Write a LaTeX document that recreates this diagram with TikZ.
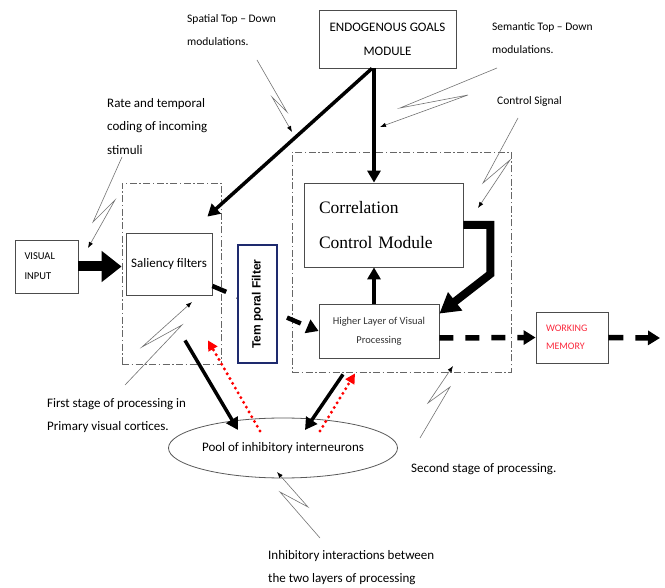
\documentclass[tikz,border=0pt]{standalone}
\usepackage{fontspec}
\setmainfont{Carlito}
\newfontfamily\timesfont{Liberation Serif}
\newfontfamily\arialfont{Liberation Sans}
\usetikzlibrary{calc,arrows.meta,shapes.geometric}
\definecolor{navyblue}{RGB}{30,42,110}
\definecolor{memred}{RGB}{250,40,60}
\tikzstyle{module} = [rectangle, draw=black!70, line width=0.8pt, inner sep=0pt, text centered, font=\fontsize{13}{24}\selectfont]
\tikzstyle{stage} = [rectangle, draw=black!60, line width=0.8pt, dash pattern=on 7pt off 2.5pt on 1.5pt off 2.5pt, inner sep=0pt]
\tikzstyle{filterbox} = [rectangle, draw=navyblue, line width=2pt, fill=white, inner sep=0pt, font=\arialfont\bfseries\fontsize{12}{14}\selectfont]
\tikzstyle{note} = [inner sep=0pt, anchor=north west, align=left, font=\fontsize{13}{23.5}\selectfont]
\tikzstyle{smallnote} = [note, font=\fontsize{11.5}{23.5}\selectfont]
\tikzstyle{callout} = [draw=black!55, line width=0.6pt, -{Latex[length=6pt,width=4.5pt,color=black]}]
\tikzstyle{arrow} = [line width=3.5pt, -{Triangle[length=12pt,width=13pt]}]
\tikzstyle{dasharrow} = [line width=4.5pt, dash pattern=on 15pt off 12pt, -{Triangle[length=12pt,width=14pt]}]
\tikzstyle{inhibit} = [red, line width=3.3pt, dash pattern=on 0pt off 5.5pt, line cap=round, -{Triangle[length=10pt,width=10pt]}]

\begin{document}
\begin{tikzpicture}[x=1pt,y=-1pt]
\useasboundingbox (0,0) rectangle (665,588);
% boxes
\node (goals) [module, minimum width=137pt, minimum height=58pt, align=center] at (387.5,39) {ENDOGENOUS GOALS\\MODULE};
\node (stage1) [stage, minimum width=99pt, minimum height=181pt] at (171.5,273.5) {};
\node (stage2) [stage, minimum width=219pt, minimum height=220pt] at (401.5,262) {};
\node (input) [module, minimum width=63pt, minimum height=53pt, text width=44pt, align=left, font=\fontsize{10.5}{20}\selectfont] at (46.5,266.5) {VISUAL\\INPUT};
\node (saliency) [module, minimum width=86pt, minimum height=62pt] at (169,264) {Saliency filters};
\node (corr) [module, minimum width=159pt, minimum height=84pt, text width=129pt, align=left, font=\timesfont\fontsize{17.5}{35}\selectfont] at (383.5,225) {Correlation\\Control Module};
\node (higher) [module, minimum width=120pt, minimum height=54pt, align=center, text=black!80, font=\fontsize{10.5}{19}\selectfont] at (379,331) {Higher Layer of Visual\\Processing};
\node (memory) [module, minimum width=72pt, minimum height=51pt, text width=52pt, align=left, text=memred, font=\fontsize{10}{18}\selectfont] at (572,337.5) {WORKING\\MEMORY};
\node (pool) [ellipse, draw=black!65, line width=0.8pt, minimum width=210pt, minimum height=60pt, inner sep=0pt, font=\fontsize{13}{16}\selectfont] at (283,448) {Pool of inhibitory interneurons};
\coordinate (axis) at (374,0);
\coordinate (outend) at (660,338);

% labels
\node (spatial) [smallnote] at (187,14) {Spatial Top -- Down\\modulations.};
\node (semantic) [smallnote] at (492,22) {Semantic Top -- Down\\modulations.};
\node (control) [smallnote] at (497,96) {Control Signal};
\node (rate) [note] at (107,98) {Rate and temporal\\coding of incoming\\stimuli};
\node (first) [note] at (47,398) {First stage of processing in\\Primary visual cortices.};
\node (second) [note] at (411,463) {Second stage of processing.};
\node (inhib) [note] at (268,550) {Inhibitory interactions between\\the two layers of processing};

% main flow
\draw [line width=10pt, -{Triangle[length=20pt,width=30pt]}] (input.east) -- (input.east -| stage1.west);
\draw [arrow] (goals.south -| axis) -- (corr.north -| axis);
\draw [arrow] ([xshift=-15.5pt]goals.south) -- ($(stage1.north east)+(-14,34)$);
\draw [arrow] (higher.north -| axis) -- (corr.south -| axis);
\draw [line width=8pt, line join=miter, -{Triangle[length=20pt,width=22pt]}] (corr.east) -- ++(27,0) -- ++(0,49) -- ($(higher.north east)+(0,10)$);
\draw [dasharrow] ($(saliency.east)+(0,22)$) -- (higher.west);
\node (tfilter) [filterbox, minimum width=118pt, minimum height=39pt, rotate=90] at (257.5,304) {Tem poral Filter};
\draw [dasharrow, line width=5.5pt, dash pattern=on 14pt off 12pt] ($(higher.east)+(0,7)$) -- (memory.west);
\draw [dasharrow, line width=5.5pt, dash pattern=on 15pt off 12pt] (memory.east) -- (outend);

% inhibitory loop
\draw [arrow] ($(stage1.south)+(13.5,-24)$) -- ($(pool.center)+(-45,-18)$);
\draw [inhibit] ($(pool.center)+(-23,-17)$) -- ($(stage1.south)+(36.5,-24)$);
\draw [arrow] ($(stage2.south)+(-58.5,2)$) -- ($(pool.center)+(22,-18)$);
\draw [inhibit] ($(pool.center)+(37,-17)$) -- ($(stage2.south)+(-46.5,1)$);

% callouts
\draw [callout] ($(spatial.north west)+(70,46)$) -- ++(30,52) -- ++(-15,-15) -- ++(20,35);
\draw [callout] ($(semantic.north west)+(5,46)$) -- ++(-97,40) -- ++(68,-13) -- ++(-88,32);
\draw [callout] ($(control.north west)+(21,22)$) -- ++(-35,65) -- ++(27,-23) -- ++(-32,48);
\draw [callout] ($(rate.north west)+(15,59)$) -- ++(-29,65) -- ++(22,-22) -- ++(-27,48);
\draw [callout] ($(first.north west)+(78,-13)$) -- ++(57,-60) -- ++(-40,22) -- ++(50,-45);
\draw [callout] ($(second.north west)+(9,-25)$) -- ++(30,-51) -- ++(-22,16) -- ++(25,-37);
\draw [callout] ($(inhib.north west)+(52,-12)$) -- ++(-40,-46) -- ++(28,15) -- ++(-31,-35);
\end{tikzpicture}
\end{document}
